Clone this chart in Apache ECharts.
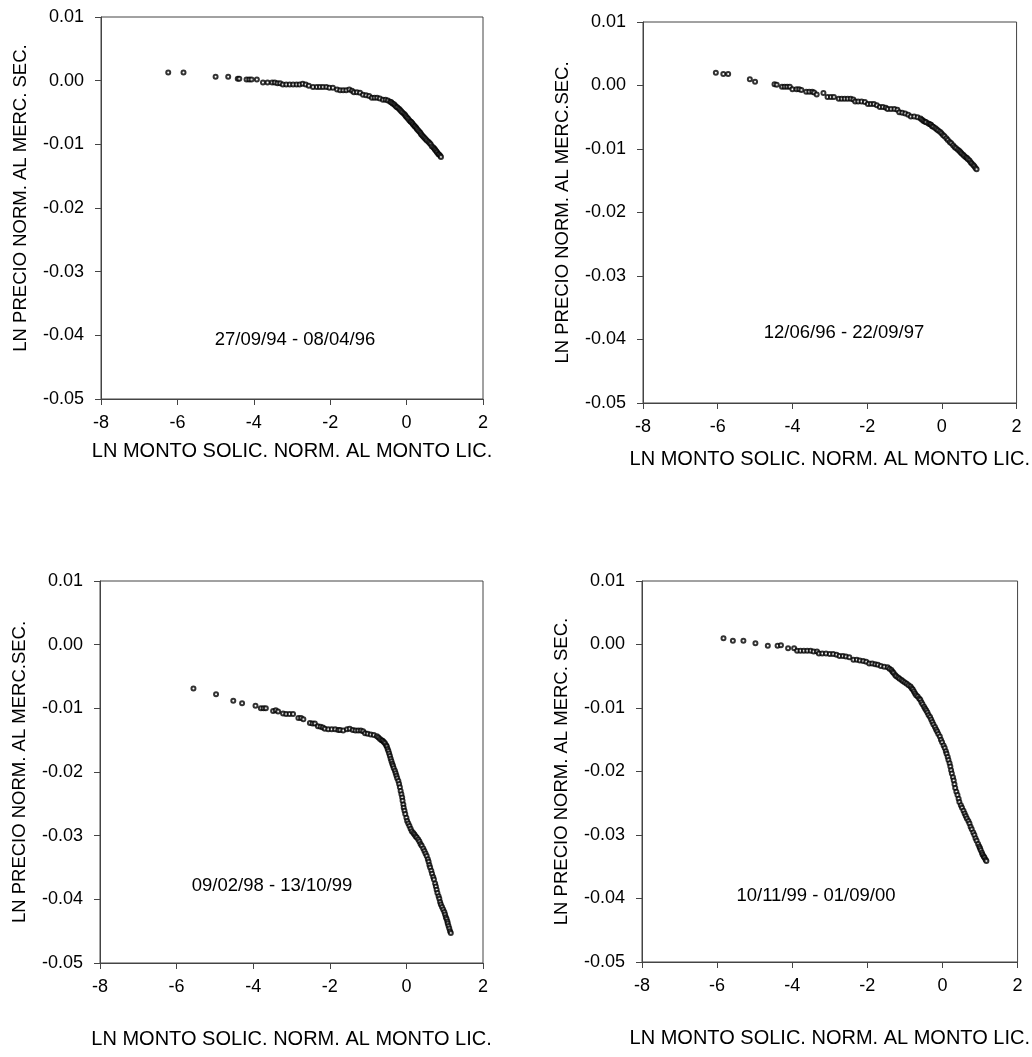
<!DOCTYPE html>
<html>
<head>
    <meta charset="UTF-8">
    <title>Precio vs monto</title>
    <script src="https://cdn.jsdelivr.net/npm/echarts@6/dist/echarts.min.js"></script>
    <style type="text/css">
        html, body {
            margin: 0;
            padding: 0;
            background: #fff;
        }
        #main {
            width: 1032px;
            height: 1057px;
        }
    </style>
</head>
<body>
<div id="main"></div>
<script type="text/javascript">
    // ejes comunes
    var xTicks = [-8, -6, -4, -2, 0, 2];
    var yTicks = [-0.05, -0.04, -0.03, -0.02, -0.01, 0.00, 0.01];

    var periodLabels = ['27/09/94 - 08/04/96', '12/06/96 - 22/09/97', '09/02/98 - 13/10/99', '10/11/99 - 01/09/00'];
    var yNames = ['LN PRECIO NORM. AL MERC. SEC.', 'LN PRECIO NORM. AL MERC.SEC.', 'LN PRECIO NORM. AL MERC.SEC.', 'LN PRECIO NORM. AL MERC. SEC.'];
    var xName = 'LN MONTO SOLIC. NORM. AL MONTO LIC.';

    // [ln monto, ln precio]
    var period1 = [
        [-6.24, 0.0013], [-5.84, 0.0013], [-5.00, 0.0006], [-4.67, 0.0006], [-4.42, 0.0003], [-4.38, 0.0003],
        [-4.19, 0.0002], [-4.12, 0.0002], [-4.06, 0.0002], [-3.92, 0.0002], [-3.76, -0.0003], [-3.64, -0.0003],
        [-3.52, -0.0003], [-3.45, -0.0003], [-3.38, -0.0004], [-3.31, -0.0004], [-3.24, -0.0006], [-3.15, -0.0006],
        [-3.06, -0.0006], [-2.97, -0.0006], [-2.88, -0.0006], [-2.80, -0.0006], [-2.72, -0.0005], [-2.64, -0.0006],
        [-2.56, -0.0008], [-2.45, -0.0010], [-2.35, -0.0010], [-2.27, -0.0010], [-2.19, -0.0010], [-2.10, -0.0010],
        [-2.02, -0.0011], [-1.93, -0.0011], [-1.82, -0.0014], [-1.74, -0.0015], [-1.66, -0.0015], [-1.58, -0.0015],
        [-1.50, -0.0014], [-1.43, -0.0016], [-1.38, -0.0018], [-1.30, -0.0018], [-1.22, -0.0019], [-1.14, -0.0022],
        [-1.06, -0.0023], [-0.98, -0.0024], [-0.91, -0.0027], [-0.84, -0.0027], [-0.77, -0.0027], [-0.70, -0.0028],
        [-0.62, -0.0030], [-0.55, -0.0030], [-0.49, -0.0031], [-0.43, -0.0033], [-0.40, -0.0034], [-0.37, -0.0036],
        [-0.33, -0.0037], [-0.30, -0.0039], [-0.27, -0.0041], [-0.24, -0.0042], [-0.20, -0.0044], [-0.17, -0.0046],
        [-0.14, -0.0048], [-0.11, -0.0050], [-0.07, -0.0052], [-0.04, -0.0054], [-0.02, -0.0056], [0.01, -0.0058],
        [0.04, -0.0060], [0.07, -0.0062], [0.10, -0.0064], [0.12, -0.0065], [0.15, -0.0067], [0.17, -0.0069],
        [0.20, -0.0071], [0.22, -0.0072], [0.25, -0.0074], [0.27, -0.0076], [0.30, -0.0078], [0.33, -0.0080],
        [0.36, -0.0082], [0.38, -0.0084], [0.41, -0.0086], [0.44, -0.0088], [0.47, -0.0090], [0.50, -0.0092],
        [0.53, -0.0094], [0.57, -0.0096], [0.60, -0.0098], [0.63, -0.0100], [0.66, -0.0103], [0.70, -0.0105],
        [0.73, -0.0107], [0.75, -0.0109], [0.78, -0.0111], [0.80, -0.0113], [0.83, -0.0115], [0.85, -0.0116],
        [0.88, -0.0118], [0.90, -0.0120]
    ];
    var period2 = [
        [-6.05, 0.0020], [-5.85, 0.0018], [-5.72, 0.0018], [-5.14, 0.0010], [-5.00, 0.0006], [-4.48, 0.0002],
        [-4.42, 0.0001], [-4.28, -0.0002], [-4.21, -0.0002], [-4.14, -0.0002], [-4.07, -0.0002], [-4.00, -0.0006],
        [-3.89, -0.0006], [-3.82, -0.0006], [-3.76, -0.0007], [-3.63, -0.0010], [-3.55, -0.0010], [-3.47, -0.0010],
        [-3.42, -0.0011], [-3.35, -0.0014], [-3.17, -0.0012], [-3.06, -0.0018], [-2.97, -0.0018], [-2.89, -0.0018],
        [-2.76, -0.0021], [-2.68, -0.0021], [-2.60, -0.0021], [-2.52, -0.0021], [-2.44, -0.0021], [-2.37, -0.0022],
        [-2.32, -0.0025], [-2.24, -0.0025], [-2.15, -0.0025], [-2.06, -0.0026], [-1.98, -0.0029], [-1.90, -0.0029],
        [-1.82, -0.0029], [-1.74, -0.0031], [-1.66, -0.0034], [-1.58, -0.0034], [-1.50, -0.0035], [-1.45, -0.0037],
        [-1.36, -0.0037], [-1.27, -0.0037], [-1.19, -0.0038], [-1.14, -0.0042], [-1.06, -0.0043], [-0.98, -0.0044],
        [-0.90, -0.0046], [-0.83, -0.0049], [-0.74, -0.0049], [-0.65, -0.0050], [-0.57, -0.0052], [-0.53, -0.0054],
        [-0.49, -0.0056], [-0.45, -0.0057], [-0.42, -0.0058], [-0.36, -0.0060], [-0.32, -0.0061], [-0.29, -0.0062],
        [-0.26, -0.0064], [-0.23, -0.0065], [-0.18, -0.0067], [-0.14, -0.0069], [-0.10, -0.0071], [-0.05, -0.0073],
        [-0.01, -0.0075], [0.03, -0.0078], [0.07, -0.0080], [0.12, -0.0083], [0.16, -0.0086], [0.21, -0.0089],
        [0.25, -0.0091], [0.30, -0.0094], [0.34, -0.0097], [0.38, -0.0099], [0.43, -0.0101], [0.47, -0.0103],
        [0.50, -0.0105], [0.53, -0.0107], [0.57, -0.0109], [0.60, -0.0111], [0.64, -0.0113], [0.67, -0.0114],
        [0.70, -0.0116], [0.74, -0.0118], [0.77, -0.0121], [0.80, -0.0123], [0.84, -0.0125], [0.87, -0.0127],
        [0.90, -0.0130], [0.93, -0.0132]
    ];
    var period3 = [
        [-5.56, -0.0069], [-4.97, -0.0078], [-4.52, -0.0088], [-4.29, -0.0092], [-3.94, -0.0096], [-3.80, -0.0100],
        [-3.73, -0.0100], [-3.67, -0.0100], [-3.48, -0.0104], [-3.41, -0.0103], [-3.35, -0.0105], [-3.22, -0.0108],
        [-3.14, -0.0109], [-3.05, -0.0109], [-2.96, -0.0109], [-2.82, -0.0115], [-2.75, -0.0115], [-2.69, -0.0117],
        [-2.52, -0.0123], [-2.45, -0.0124], [-2.39, -0.0124], [-2.31, -0.0128], [-2.24, -0.0129], [-2.18, -0.0130],
        [-2.13, -0.0132], [-2.04, -0.0133], [-1.95, -0.0133], [-1.86, -0.0133], [-1.78, -0.0134], [-1.73, -0.0134],
        [-1.65, -0.0135], [-1.55, -0.0133], [-1.48, -0.0132], [-1.40, -0.0134], [-1.33, -0.0135], [-1.26, -0.0135],
        [-1.19, -0.0135], [-1.13, -0.0136], [-1.08, -0.0139], [-1.01, -0.0140], [-0.93, -0.0141], [-0.85, -0.0142],
        [-0.77, -0.0144], [-0.73, -0.0146], [-0.69, -0.0148], [-0.65, -0.0150], [-0.62, -0.0151], [-0.59, -0.0153],
        [-0.56, -0.0155], [-0.53, -0.0158], [-0.51, -0.0160], [-0.49, -0.0164], [-0.47, -0.0167], [-0.45, -0.0171],
        [-0.43, -0.0175], [-0.41, -0.0179], [-0.39, -0.0183], [-0.37, -0.0187], [-0.35, -0.0190], [-0.33, -0.0194],
        [-0.30, -0.0198], [-0.28, -0.0202], [-0.26, -0.0206], [-0.24, -0.0210], [-0.21, -0.0214], [-0.19, -0.0219],
        [-0.17, -0.0224], [-0.15, -0.0230], [-0.13, -0.0235], [-0.11, -0.0240], [-0.10, -0.0245], [-0.08, -0.0251],
        [-0.07, -0.0256], [-0.05, -0.0261], [-0.03, -0.0266], [0.00, -0.0272], [0.02, -0.0277], [0.05, -0.0281],
        [0.08, -0.0285], [0.11, -0.0289], [0.14, -0.0293], [0.18, -0.0296], [0.21, -0.0298], [0.24, -0.0301],
        [0.27, -0.0303], [0.31, -0.0306], [0.34, -0.0309], [0.37, -0.0313], [0.40, -0.0316], [0.44, -0.0320],
        [0.47, -0.0324], [0.50, -0.0328], [0.53, -0.0332], [0.56, -0.0337], [0.58, -0.0341], [0.60, -0.0346],
        [0.62, -0.0350], [0.65, -0.0355], [0.67, -0.0360], [0.70, -0.0365], [0.72, -0.0369], [0.75, -0.0375],
        [0.77, -0.0380], [0.79, -0.0385], [0.81, -0.0390], [0.84, -0.0395], [0.86, -0.0399], [0.88, -0.0404],
        [0.90, -0.0408], [0.93, -0.0412], [0.96, -0.0416], [0.99, -0.0420], [1.01, -0.0424], [1.03, -0.0428],
        [1.05, -0.0431], [1.07, -0.0435], [1.08, -0.0438], [1.10, -0.0442], [1.12, -0.0446], [1.14, -0.0450],
        [1.16, -0.0453]
    ];
    var period4 = [
        [-5.83, 0.0010], [-5.58, 0.0006], [-5.30, 0.0006], [-4.98, 0.0002], [-4.65, -0.0002], [-4.39, -0.0002],
        [-4.30, -0.0001], [-4.11, -0.0006], [-3.95, -0.0006], [-3.87, -0.0010], [-3.78, -0.0010], [-3.69, -0.0010],
        [-3.60, -0.0010], [-3.51, -0.0010], [-3.43, -0.0011], [-3.34, -0.0011], [-3.29, -0.0014], [-3.20, -0.0014],
        [-3.10, -0.0014], [-3.00, -0.0015], [-2.91, -0.0015], [-2.82, -0.0016], [-2.74, -0.0018], [-2.65, -0.0018],
        [-2.57, -0.0019], [-2.48, -0.0020], [-2.37, -0.0024], [-2.28, -0.0024], [-2.20, -0.0025], [-2.11, -0.0026],
        [-2.03, -0.0027], [-1.95, -0.0030], [-1.87, -0.0030], [-1.79, -0.0031], [-1.72, -0.0032], [-1.64, -0.0034],
        [-1.55, -0.0035], [-1.46, -0.0036], [-1.41, -0.0038], [-1.36, -0.0040], [-1.33, -0.0043], [-1.30, -0.0045],
        [-1.26, -0.0048], [-1.23, -0.0050], [-1.18, -0.0052], [-1.14, -0.0054], [-1.09, -0.0056], [-1.05, -0.0058],
        [-1.00, -0.0060], [-0.95, -0.0062], [-0.90, -0.0064], [-0.85, -0.0066], [-0.82, -0.0069], [-0.79, -0.0071],
        [-0.76, -0.0074], [-0.73, -0.0077], [-0.70, -0.0080], [-0.66, -0.0082], [-0.62, -0.0085], [-0.59, -0.0087],
        [-0.56, -0.0091], [-0.53, -0.0094], [-0.49, -0.0098], [-0.46, -0.0101], [-0.43, -0.0104], [-0.40, -0.0107],
        [-0.37, -0.0111], [-0.33, -0.0114], [-0.30, -0.0118], [-0.27, -0.0122], [-0.24, -0.0126], [-0.20, -0.0130],
        [-0.17, -0.0134], [-0.14, -0.0137], [-0.11, -0.0141], [-0.07, -0.0145], [-0.04, -0.0150], [-0.01, -0.0154],
        [0.03, -0.0159], [0.06, -0.0163], [0.09, -0.0168], [0.11, -0.0172], [0.14, -0.0177], [0.16, -0.0182],
        [0.19, -0.0187], [0.21, -0.0192], [0.23, -0.0198], [0.25, -0.0203], [0.28, -0.0209], [0.30, -0.0214],
        [0.32, -0.0220], [0.34, -0.0226], [0.37, -0.0232], [0.40, -0.0237], [0.43, -0.0243], [0.45, -0.0248],
        [0.49, -0.0253], [0.52, -0.0257], [0.56, -0.0262], [0.59, -0.0266], [0.62, -0.0270], [0.65, -0.0274],
        [0.69, -0.0278], [0.72, -0.0282], [0.75, -0.0287], [0.78, -0.0291], [0.82, -0.0296], [0.85, -0.0300],
        [0.88, -0.0305], [0.91, -0.0309], [0.95, -0.0314], [0.98, -0.0318], [1.00, -0.0321], [1.02, -0.0324],
        [1.05, -0.0328], [1.07, -0.0331], [1.10, -0.0334], [1.12, -0.0336], [1.15, -0.0339], [1.17, -0.0341]
    ];

    var allPeriods = [period1, period2, period3, period4];

    // posicion de cada panel (px)
    var panels = [
        {left: 101, top: 17, width: 382, height: 382, xGap: 42, yPad: 20, text: [295, 340]},
        {left: 643, top: 22, width: 382, height: 381, xGap: 46, yPad: 0, text: [844, 333]},
        {left: 100, top: 581, width: 383, height: 382, xGap: 66, yPad: 0, text: [272, 886]},
        {left: 642, top: 581, width: 382, height: 381, xGap: 66, yPad: 0, text: [816, 896]}
    ];

    var FONT = '"Liberation Sans", Arial, sans-serif';
    var axisColor = '#444';

    var grids = [], xAxes = [], yAxes = [], series = [], graphics = [];
    panels.forEach(function (p, i) {
        grids.push({
            left: p.left, top: p.top, width: p.width, height: p.height,
            show: true, borderColor: axisColor, borderWidth: 1, backgroundColor: '#fff'
        });
        xAxes.push({
            gridIndex: i,
            type: 'value',
            min: xTicks[0],
            max: xTicks[xTicks.length - 1],
            interval: 2,
            name: xName,
            nameLocation: 'middle',
            nameGap: p.xGap,
            nameTextStyle: {color: '#000', fontSize: 20, fontFamily: FONT},
            axisLine: {show: true, onZero: false, lineStyle: {color: axisColor, width: 1}},
            axisTick: {show: true, inside: false, length: 6, lineStyle: {color: axisColor}},
            axisLabel: {color: '#000', fontSize: 18, fontFamily: FONT, margin: 15},
            splitLine: {show: false}
        });
        yAxes.push({
            gridIndex: i,
            type: 'value',
            min: yTicks[0],
            max: yTicks[yTicks.length - 1],
            interval: 0.01,
            name: yNames[i],
            nameLocation: 'middle',
            nameGap: 71,
            nameTextStyle: {color: '#000', fontSize: 18.5, fontFamily: FONT, padding: [0, 0, 0, p.yPad]},
            axisLine: {show: true, onZero: false, lineStyle: {color: axisColor, width: 1}},
            axisTick: {show: true, inside: false, length: 6, lineStyle: {color: axisColor}},
            axisLabel: {
                color: '#000', fontSize: 18, fontFamily: FONT, margin: 17,
                formatter: function (v) {
                    var s = v.toFixed(2);
                    return s === '-0.00' ? '0.00' : s;
                }
            },
            splitLine: {show: false}
        });
        series.push({
            type: 'scatter',
            xAxisIndex: i,
            yAxisIndex: i,
            symbol: 'emptyCircle',
            symbolSize: 4,
            itemStyle: {color: '#000', borderColor: '#000', borderWidth: 1},
            data: allPeriods[i],
            silent: true,
            animation: false
        });
        graphics.push({
            type: 'text',
            x: p.text[0],
            y: p.text[1],
            style: {
                text: periodLabels[i],
                font: '18.5px ' + FONT,
                fill: '#000',
                align: 'center',
                verticalAlign: 'middle'
            }
        });
    });

    var mycharts = echarts.init(document.getElementById('main'));
    mycharts.setOption({
        backgroundColor: '#fff',
        animation: false,
        grid: grids,
        xAxis: xAxes,
        yAxis: yAxes,
        series: series,
        graphic: graphics
    });
</script>
</body>
</html>
